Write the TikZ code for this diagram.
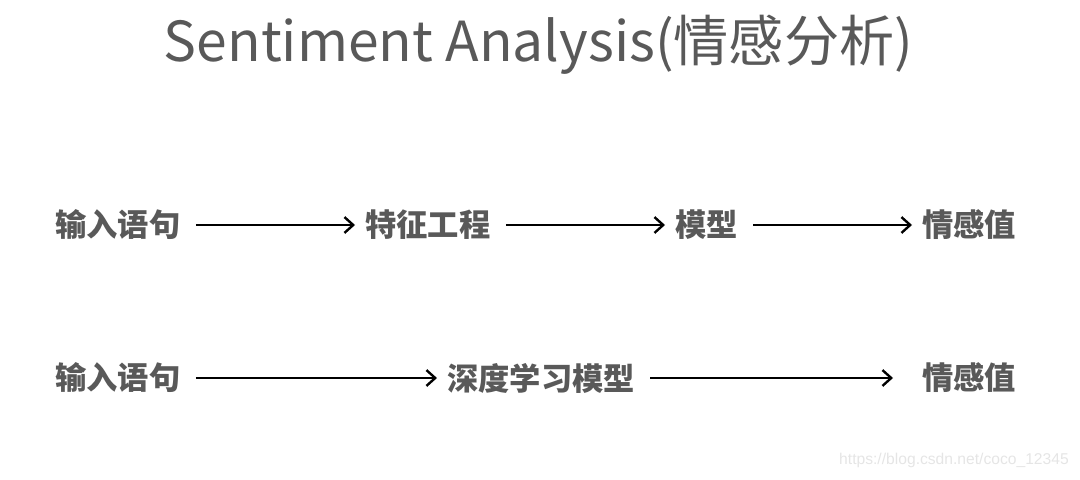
\documentclass[tikz,border=0pt]{standalone}
\usepackage{fontspec}
\setmainfont{Noto Sans CJK SC}
\newfontfamily\cjk{Noto Sans CJK SC}
\newfontfamily\webfont{Liberation Sans}
\usetikzlibrary{arrows.meta}
\definecolor{txtgray}{HTML}{595959}
\tikzset{
  word/.style={anchor=west,inner sep=0pt,text=txtgray,font=\cjk\bfseries\fontsize{17.8}{20}\selectfont},
  arr/.style={-{Straight Barb[length=5pt,width=9pt]},line width=1.35pt,shorten <=0.3cm,shorten >=0.2cm}
}
\begin{document}
\begin{tikzpicture}
\useasboundingbox (0,0) rectangle (21.6,-9.58);
\node[text=txtgray,font=\cjk\fontsize{31.4}{36}\selectfont] (title) at (10.77,-0.9) {Sentiment Analysis(情感分析)};
% first row
\node[word] (in1) at (1.1,-4.5) {输入语句};
\node[word] (fe) at (7.3,-4.5) {特征工程};
\node[word] (mod) at (13.5,-4.5) {模型};
\node[word] (val1) at (18.44,-4.5) {情感值};
\draw[arr] (in1) -- (fe);
\draw[arr] (fe) -- (mod);
\draw[arr] (mod) -- (val1);
% second row
\node[word] (in2) at (1.1,-7.56) {输入语句};
\node[word] (dl) at (8.94,-7.56) {深度学习模型};
\node[word] (val2) at (18.44,-7.56) {情感值};
\draw[arr] (in2) -- (dl);
\draw[arr,shorten >=0.58cm] (dl) -- (val2);
\node[text=black!10,font=\webfont\fontsize{8.9}{10}\selectfont] (url) at (19.08,-9.2) {https://blog.csdn.net/coco\_12345};
\end{tikzpicture}
\end{document}
